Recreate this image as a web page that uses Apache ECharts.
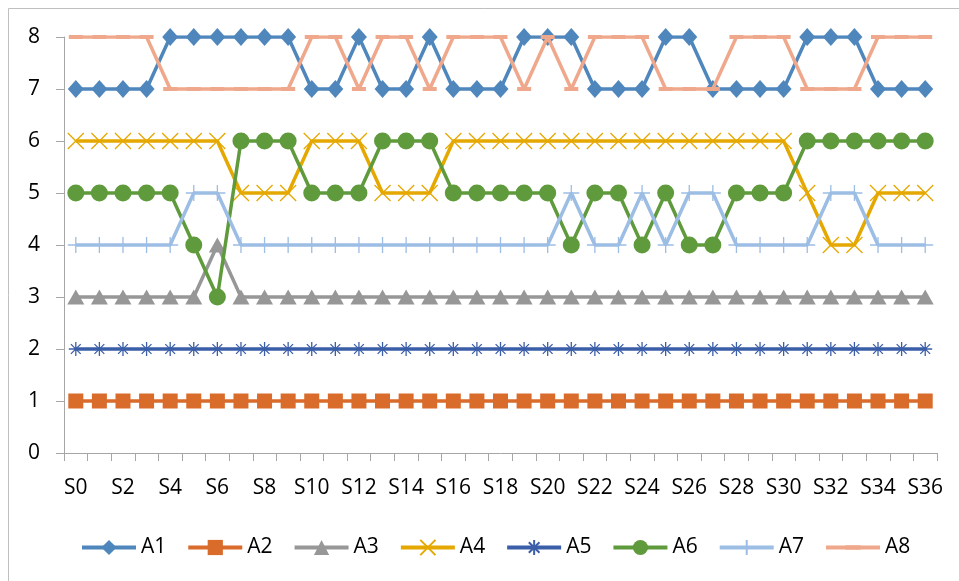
<!DOCTYPE html>
<html><head><meta charset="utf-8">
<script src="https://cdn.jsdelivr.net/npm/echarts@6/dist/echarts.min.js"></script>
<style>html,body{margin:0;padding:0;background:#fff}#c{width:959px;height:581px}</style>
</head><body><div id="c"></div>
<script>
const categories = Array.from({length:37},(_,i)=>'S'+i);
const yTicks = [0,1,2,3,4,5,6,7,8];
const A1 = [7,7,7,7,8,8,8,8,8,8,7,7,8,7,7,8,7,7,7,8,8,8,7,7,7,8,8,7,7,7,7,8,8,8,7,7,7];
const A2 = [1,1,1,1,1,1,1,1,1,1,1,1,1,1,1,1,1,1,1,1,1,1,1,1,1,1,1,1,1,1,1,1,1,1,1,1,1];
const A3 = [3,3,3,3,3,3,4,3,3,3,3,3,3,3,3,3,3,3,3,3,3,3,3,3,3,3,3,3,3,3,3,3,3,3,3,3,3];
const A4 = [6,6,6,6,6,6,6,5,5,5,6,6,6,5,5,5,6,6,6,6,6,6,6,6,6,6,6,6,6,6,6,5,4,4,5,5,5];
const A5 = [2,2,2,2,2,2,2,2,2,2,2,2,2,2,2,2,2,2,2,2,2,2,2,2,2,2,2,2,2,2,2,2,2,2,2,2,2];
const A6 = [5,5,5,5,5,4,3,6,6,6,5,5,5,6,6,6,5,5,5,5,5,4,5,5,4,5,4,4,5,5,5,6,6,6,6,6,6];
const A7 = [4,4,4,4,4,5,5,4,4,4,4,4,4,4,4,4,4,4,4,4,4,5,4,4,5,4,5,5,4,4,4,4,5,5,4,4,4];
const A8 = [8,8,8,8,7,7,7,7,7,7,8,8,7,8,8,7,8,8,8,7,8,7,8,8,8,7,7,7,8,8,8,7,7,7,8,8,8];
const names = ['A1','A2','A3','A4','A5','A6','A7','A8'];
const data = [A1,A2,A3,A4,A5,A6,A7,A8];
const colors = ['#4f87bd','#d96b2b','#979797','#e5a800','#3b5ea8','#5f9a3c','#9cbde4','#f0a88c'];
const symbols = [
  {symbol:'diamond', size:[16,18], stroke:0},
  {symbol:'rect', size:[15,15], stroke:0},
  {symbol:'triangle', size:[17,15], stroke:0},
  {symbol:'path://M0,0L10,10M10,0L0,10', size:[16,16], stroke:1.3},
  {symbol:'path://M0,5L10,5M5,0L5,10M1.5,1.5L8.5,8.5M8.5,1.5L1.5,8.5', size:[14,14], stroke:1.3},
  {symbol:'circle', size:17, stroke:0},
  {symbol:'path://M0,5L10,5M5,0L5,10', size:[16,16], stroke:1.3},
  {symbol:'path://M0,0L0,0M0,5L14,5L14,9L0,9ZM14,14L14,14', size:[14,14], stroke:0}
];
const font = '"Open Sans", sans-serif';
const chart = echarts.init(document.getElementById('c'), null, {renderer:'canvas'});
chart.setOption({
  animation:false,
  backgroundColor:'#fff',
  graphic:[{type:'rect', shape:{x:8.5,y:8.5,width:980,height:600}, style:{fill:'none', stroke:'#bfbfbf', lineWidth:1}}],
  legend:{
    data:names, top:532, left:75, itemWidth:54, itemHeight:19, itemGap:20,
    lineStyle:{width:4},
    textStyle:{fontFamily:font, fontSize:21, color:'#000'}
  },
  grid:{left:64, right:22, top:37, bottom:128, containLabel:false},
  xAxis:{
    type:'category', data:categories, boundaryGap:true,
    axisLine:{lineStyle:{color:'#a6a6a6', width:1}},
    axisTick:{show:true, alignWithLabel:false, interval:0, length:8, lineStyle:{color:'#a6a6a6'}},
    axisLabel:{interval:1, margin:25, fontFamily:font, fontSize:21, color:'#000'},
    splitLine:{show:false}
  },
  yAxis:{
    type:'value', min:yTicks[0], max:yTicks[yTicks.length-1], interval:1,
    axisLine:{show:true, lineStyle:{color:'#a6a6a6'}},
    axisTick:{show:true, length:8, lineStyle:{color:'#a6a6a6'}},
    axisLabel:{margin:24, fontFamily:font, fontSize:21, color:'#000'},
    splitLine:{show:false}
  },
  series: names.map((n,i)=>({
    name:n, type:'line', data:data[i], color:colors[i],
    symbol:symbols[i].symbol, symbolSize:symbols[i].size, showAllSymbol:true,
    lineStyle:{width:3.5, color:colors[i]},
    itemStyle:{color:colors[i], borderColor:colors[i], borderWidth:symbols[i].stroke},
    z: 2 + i
  }))
});
</script></body></html>
